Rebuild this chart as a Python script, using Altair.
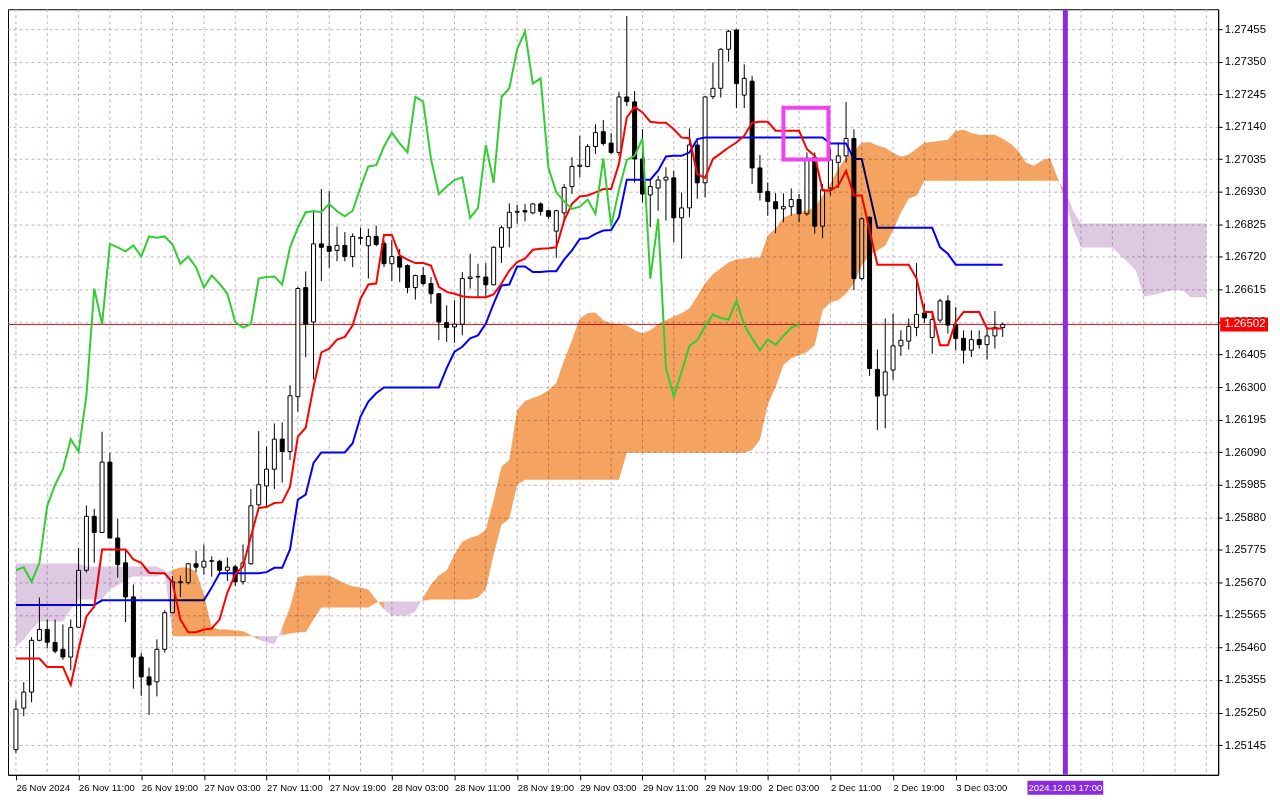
import altair as alt
import pandas as pd

# ---------------- data ----------------
x_label_bars = [0, 8, 16, 24, 32, 40, 48, 56, 64, 72, 80, 88, 96, 104, 112, 120]
x_labels = ["26 Nov 2024", "26 Nov 11:00", "26 Nov 19:00", "27 Nov 03:00", "27 Nov 11:00",
            "27 Nov 19:00", "28 Nov 03:00", "28 Nov 11:00", "28 Nov 19:00", "29 Nov 03:00",
            "29 Nov 11:00", "29 Nov 19:00", "2 Dec 03:00", "2 Dec 11:00", "2 Dec 19:00",
            "3 Dec 03:00"]
y_ticks = [1.25145, 1.25250, 1.25355, 1.25460, 1.25565, 1.25670, 1.25775, 1.25880,
           1.25985, 1.26090, 1.26195, 1.26300, 1.26405, 1.26510, 1.26615, 1.26720,
           1.26825, 1.26930, 1.27035, 1.27140, 1.27245, 1.27350, 1.27455]
grid_bars = [0, 4, 8, 12, 16, 20, 24, 28, 32, 36, 40, 44, 48, 52, 56, 60, 64, 68, 72, 76,
             80, 84, 88, 92, 96, 100, 104, 108, 112, 116, 120, 124, 128, 132, 136, 140,
             144, 148, 152]

opens = [
    1.25130, 1.25264, 1.25316, 1.25483, 1.25518, 1.25476, 1.25454, 1.25429, 1.25525, 1.25709,
    1.25883, 1.25831, 1.26058, 1.25813, 1.25733, 1.25623, 1.25429, 1.25365, 1.25349, 1.25454,
    1.25572, 1.25669, 1.25669, 1.25730, 1.25719, 1.25738, 1.25738, 1.25709, 1.25720, 1.25672,
    1.25730, 1.25920, 1.25981, 1.26035, 1.26132, 1.26092, 1.26269, 1.26621, 1.26510, 1.26762,
    1.26754, 1.26741, 1.26757, 1.26721, 1.26780, 1.26756, 1.26786, 1.26764, 1.26698, 1.26721,
    1.26692, 1.26621, 1.26660, 1.26634, 1.26601, 1.26508, 1.26494, 1.26503, 1.26650, 1.26655,
    1.26655, 1.26630, 1.26751, 1.26814, 1.26864, 1.26869, 1.26862, 1.26891, 1.26869, 1.26803,
    1.26862, 1.26947, 1.27012, 1.27012, 1.27076, 1.27124, 1.27087, 1.27057, 1.27236, 1.27220,
    1.27036, 1.26920, 1.26942, 1.26968, 1.26975, 1.26846, 1.26878, 1.27081, 1.26959, 1.27237,
    1.27264, 1.27390, 1.27452, 1.27242, 1.27287, 1.27007, 1.26931, 1.26898, 1.26875, 1.26882,
    1.26905, 1.26859, 1.27041, 1.26819, 1.26942, 1.27025, 1.27046, 1.27102, 1.26650, 1.26848,
    1.26357, 1.26274, 1.26355, 1.26433, 1.26448, 1.26492, 1.26539, 1.26460, 1.26516, 1.26578,
    1.26502, 1.26457, 1.26419, 1.26453, 1.26437, 1.26465, 1.26492]
highs = [
    1.25290, 1.25348, 1.25493, 1.25621, 1.25550, 1.25550, 1.25534, 1.25550, 1.25781, 1.25918,
    1.25907, 1.26156, 1.26087, 1.25875, 1.25773, 1.25663, 1.25443, 1.25395, 1.25486, 1.25580,
    1.25690, 1.25692, 1.25733, 1.25772, 1.25792, 1.25754, 1.25743, 1.25750, 1.25727, 1.25792,
    1.25971, 1.26158, 1.26108, 1.26183, 1.26186, 1.26306, 1.26623, 1.26673, 1.26872, 1.26939,
    1.26932, 1.26818, 1.26800, 1.26796, 1.26814, 1.26811, 1.26821, 1.26773, 1.26775, 1.26746,
    1.26696, 1.26663, 1.26687, 1.26655, 1.26603, 1.26564, 1.26580, 1.26671, 1.26730, 1.26698,
    1.26700, 1.26754, 1.26821, 1.26893, 1.26888, 1.26891, 1.26893, 1.26896, 1.26872, 1.26872,
    1.26955, 1.27041, 1.27111, 1.27084, 1.27148, 1.27162, 1.27119, 1.27253, 1.27497, 1.27255,
    1.27132, 1.26971, 1.26982, 1.27009, 1.26998, 1.26928, 1.27134, 1.27095, 1.27239, 1.27347,
    1.27393, 1.27452, 1.27454, 1.27341, 1.27304, 1.27049, 1.26960, 1.26926, 1.26925, 1.26941,
    1.26923, 1.27057, 1.27057, 1.26955, 1.27068, 1.27089, 1.27220, 1.27132, 1.26848, 1.26850,
    1.26421, 1.26521, 1.26537, 1.26483, 1.26521, 1.26700, 1.26569, 1.26542, 1.26585, 1.26596,
    1.26558, 1.26483, 1.26483, 1.26483, 1.26494, 1.26545, 1.26508]
lows = [
    1.25120, 1.25238, 1.25283, 1.25480, 1.25457, 1.25441, 1.25420, 1.25387, 1.25524, 1.25701,
    1.25733, 1.25829, 1.25813, 1.25685, 1.25542, 1.25327, 1.25304, 1.25242, 1.25302, 1.25443,
    1.25572, 1.25623, 1.25663, 1.25703, 1.25695, 1.25688, 1.25695, 1.25674, 1.25658, 1.25663,
    1.25727, 1.25915, 1.25915, 1.25971, 1.25992, 1.26065, 1.26221, 1.26396, 1.26325, 1.26642,
    1.26685, 1.26706, 1.26706, 1.26687, 1.26760, 1.26650, 1.26754, 1.26687, 1.26642, 1.26639,
    1.26603, 1.26582, 1.26628, 1.26569, 1.26451, 1.26446, 1.26443, 1.26467, 1.26618, 1.26590,
    1.26590, 1.26628, 1.26700, 1.26751, 1.26827, 1.26835, 1.26857, 1.26853, 1.26843, 1.26717,
    1.26837, 1.26923, 1.26977, 1.27009, 1.27052, 1.27079, 1.27052, 1.27046, 1.27207, 1.26960,
    1.26896, 1.26816, 1.26869, 1.26837, 1.26767, 1.26714, 1.26848, 1.26907, 1.26912, 1.27229,
    1.27234, 1.27350, 1.27200, 1.27200, 1.26955, 1.26902, 1.26853, 1.26796, 1.26832, 1.26853,
    1.26832, 1.26853, 1.26795, 1.26780, 1.26918, 1.26942, 1.27025, 1.26613, 1.26644, 1.26336,
    1.26162, 1.26167, 1.26323, 1.26401, 1.26421, 1.26464, 1.26507, 1.26408, 1.26507, 1.26473,
    1.26419, 1.26376, 1.26397, 1.26424, 1.26389, 1.26424, 1.26462]
closes = [
    1.25261, 1.25316, 1.25483, 1.25518, 1.25477, 1.25448, 1.25429, 1.25524, 1.25709, 1.25883,
    1.25831, 1.26058, 1.25813, 1.25727, 1.25623, 1.25429, 1.25365, 1.25339, 1.25454, 1.25572,
    1.25672, 1.25672, 1.25730, 1.25719, 1.25738, 1.25740, 1.25709, 1.25719, 1.25672, 1.25733,
    1.25917, 1.25985, 1.26035, 1.26132, 1.26092, 1.26272, 1.26618, 1.26503, 1.26762, 1.26751,
    1.26738, 1.26757, 1.26721, 1.26786, 1.26782, 1.26786, 1.26760, 1.26698, 1.26721, 1.26687,
    1.26621, 1.26660, 1.26634, 1.26601, 1.26510, 1.26492, 1.26503, 1.26650, 1.26655, 1.26657,
    1.26630, 1.26751, 1.26814, 1.26864, 1.26867, 1.26865, 1.26891, 1.26867, 1.26851, 1.26869,
    1.26944, 1.27012, 1.27016, 1.27076, 1.27121, 1.27086, 1.27057, 1.27236, 1.27221, 1.27036,
    1.26923, 1.26947, 1.26968, 1.26977, 1.26846, 1.26878, 1.27081, 1.26959, 1.27236, 1.27264,
    1.27390, 1.27448, 1.27279, 1.27296, 1.27007, 1.26928, 1.26899, 1.26875, 1.26882, 1.26905,
    1.26859, 1.27038, 1.26819, 1.26937, 1.27033, 1.27046, 1.27102, 1.26650, 1.26843, 1.26360,
    1.26271, 1.26349, 1.26433, 1.26451, 1.26496, 1.26534, 1.26523, 1.26518, 1.26578, 1.26500,
    1.26457, 1.26419, 1.26453, 1.26437, 1.26465, 1.26492, 1.26502]

tenkan = [
    1.25424, 1.25424, 1.25424, 1.25424, 1.25397, 1.25397, 1.25397, 1.25339, 1.25454, 1.25560,
    1.25592, 1.25776, 1.25776, 1.25776, 1.25776, 1.25744, 1.25733, 1.25701, 1.25699, 1.25699,
    1.25669, 1.25550, 1.25509, 1.25509, 1.25518, 1.25521, 1.25550, 1.25637, 1.25695, 1.25722,
    1.25818, 1.25910, 1.25913, 1.25926, 1.25928, 1.25979, 1.26140, 1.26169, 1.26301, 1.26412,
    1.26424, 1.26453, 1.26462, 1.26499, 1.26585, 1.26631, 1.26634, 1.26791, 1.26791, 1.26725,
    1.26711, 1.26700, 1.26700, 1.26692, 1.26623, 1.26607, 1.26601, 1.26593, 1.26590, 1.26590,
    1.26590, 1.26599, 1.26634, 1.26676, 1.26703, 1.26714, 1.26743, 1.26746, 1.26748, 1.26751,
    1.26837, 1.26891, 1.26915, 1.26918, 1.26928, 1.26939, 1.26939, 1.27020, 1.27170, 1.27204,
    1.27186, 1.27156, 1.27153, 1.27153, 1.27132, 1.27105, 1.27103, 1.26987, 1.26975, 1.27036,
    1.27054, 1.27073, 1.27089, 1.27111, 1.27153, 1.27156, 1.27156, 1.27127, 1.27127, 1.27127,
    1.27127, 1.27068, 1.27046, 1.26934, 1.26934, 1.26950, 1.26998, 1.26918, 1.26918, 1.26805,
    1.26695, 1.26695, 1.26695, 1.26695, 1.26695, 1.26650, 1.26542, 1.26542, 1.26435, 1.26435,
    1.26510, 1.26542, 1.26542, 1.26542, 1.26489, 1.26489, 1.26489]
kijun = [
    1.25597, 1.25597, 1.25597, 1.25597, 1.25597, 1.25597, 1.25597, 1.25597, 1.25597, 1.25597,
    1.25597, 1.25612, 1.25612, 1.25612, 1.25612, 1.25612, 1.25612, 1.25612, 1.25612, 1.25612,
    1.25612, 1.25612, 1.25612, 1.25612, 1.25612, 1.25653, 1.25699, 1.25699, 1.25699, 1.25699,
    1.25699, 1.25699, 1.25703, 1.25717, 1.25717, 1.25776, 1.25937, 1.25953, 1.26055, 1.26089,
    1.26089, 1.26089, 1.26089, 1.26119, 1.26205, 1.26253, 1.26280, 1.26299, 1.26299, 1.26299,
    1.26299, 1.26299, 1.26299, 1.26299, 1.26299, 1.26361, 1.26414, 1.26430, 1.26457, 1.26467,
    1.26505, 1.26569, 1.26628, 1.26631, 1.26689, 1.26689, 1.26671, 1.26671, 1.26674, 1.26674,
    1.26711, 1.26741, 1.26778, 1.26780, 1.26794, 1.26805, 1.26807, 1.26848, 1.26969, 1.26969,
    1.26969, 1.26969, 1.26998, 1.27044, 1.27046, 1.27046, 1.27057, 1.27100, 1.27105, 1.27105,
    1.27105, 1.27105, 1.27105, 1.27105, 1.27105, 1.27105, 1.27105, 1.27105, 1.27105, 1.27105,
    1.27105, 1.27105, 1.27105, 1.27105, 1.27086, 1.27086, 1.27086, 1.27036, 1.27036, 1.26925,
    1.26814, 1.26814, 1.26814, 1.26814, 1.26814, 1.26814, 1.26814, 1.26814, 1.26751, 1.26730,
    1.26695, 1.26695, 1.26695, 1.26695, 1.26695, 1.26695, 1.26695]

span_a = [
    1.25464, 1.25486, 1.25518, 1.25544, 1.25544, 1.25544, 1.25544, 1.25583, 1.25615, 1.25615,
    1.25615, 1.25615, 1.25647, 1.25660, 1.25679, 1.25689, 1.25689, 1.25689, 1.25689, 1.25698,
    1.25711, 1.25718, 1.25718, 1.25705, 1.25631, 1.25525, 1.25518, 1.25518, 1.25515, 1.25512,
    1.25499, 1.25486, 1.25476, 1.25470, 1.25525, 1.25589, 1.25686, 1.25692, 1.25692, 1.25692,
    1.25692, 1.25679, 1.25666, 1.25657, 1.25653, 1.25647, 1.25615, 1.25583, 1.25563, 1.25563,
    1.25563, 1.25576, 1.25621, 1.25663, 1.25692, 1.25708, 1.25760, 1.25801, 1.25814, 1.25821,
    1.25840, 1.25937, 1.26043, 1.26065, 1.26226, 1.26255, 1.26265, 1.26274, 1.26290, 1.26313,
    1.26387, 1.26451, 1.26522, 1.26538, 1.26541, 1.26516, 1.26506, 1.26503, 1.26499, 1.26483,
    1.26474, 1.26483, 1.26503, 1.26516, 1.26528, 1.26538, 1.26554, 1.26593, 1.26635, 1.26664,
    1.26683, 1.26702, 1.26712, 1.26715, 1.26718, 1.26718, 1.26789, 1.26812, 1.26847, 1.26857,
    1.26863, 1.26869, 1.26879, 1.26918, 1.26956, 1.27005, 1.27040, 1.27062, 1.27088, 1.27091,
    1.27079, 1.27072, 1.27056, 1.27043, 1.27050, 1.27069, 1.27088, 1.27091, 1.27095, 1.27098,
    1.27127, 1.27130, 1.27120, 1.27114, 1.27114, 1.27114, 1.27101, 1.27085, 1.27062, 1.27024,
    1.27014, 1.27030, 1.27040, 1.26976, 1.26902, 1.26812, 1.26750, 1.26750, 1.26750, 1.26750,
    1.26750, 1.26725, 1.26702, 1.26676, 1.26593, 1.26596, 1.26602, 1.26609, 1.26612, 1.26612,
    1.26590, 1.26590, 1.26590]
span_b = [
    1.25731, 1.25731, 1.25731, 1.25731, 1.25731, 1.25731, 1.25731, 1.25731, 1.25731, 1.25721,
    1.25721, 1.25721, 1.25721, 1.25721, 1.25721, 1.25721, 1.25721, 1.25721, 1.25721, 1.25708,
    1.25496, 1.25496, 1.25496, 1.25496, 1.25496, 1.25496, 1.25496, 1.25496, 1.25496, 1.25496,
    1.25496, 1.25496, 1.25496, 1.25496, 1.25499, 1.25505, 1.25509, 1.25509, 1.25550, 1.25589,
    1.25589, 1.25589, 1.25589, 1.25589, 1.25589, 1.25589, 1.25605, 1.25608, 1.25608, 1.25608,
    1.25608, 1.25608, 1.25611, 1.25615, 1.25615, 1.25615, 1.25615, 1.25615, 1.25615, 1.25621,
    1.25647, 1.25760, 1.25856, 1.25875, 1.25985, 1.26001, 1.26001, 1.26001, 1.26001, 1.26001,
    1.26001, 1.26001, 1.26001, 1.26001, 1.26001, 1.26001, 1.26001, 1.26001, 1.26088, 1.26088,
    1.26088, 1.26088, 1.26088, 1.26088, 1.26088, 1.26088, 1.26088, 1.26088, 1.26088, 1.26088,
    1.26088, 1.26088, 1.26088, 1.26088, 1.26097, 1.26130, 1.26242, 1.26300, 1.26371, 1.26393,
    1.26403, 1.26413, 1.26435, 1.26548, 1.26574, 1.26580, 1.26602, 1.26635, 1.26692, 1.26725,
    1.26741, 1.26757, 1.26805, 1.26863, 1.26908, 1.26918, 1.26966, 1.26966, 1.26966, 1.26966,
    1.26966, 1.26966, 1.26966, 1.26966, 1.26966, 1.26966, 1.26966, 1.26966, 1.26966, 1.26966,
    1.26966, 1.26966, 1.26966, 1.26966, 1.26934, 1.26869, 1.26828, 1.26828, 1.26828, 1.26828,
    1.26828, 1.26828, 1.26828, 1.26828, 1.26828, 1.26828, 1.26828, 1.26828, 1.26828, 1.26828,
    1.26828, 1.26828, 1.26828]

chikou_shift = 26
current_price = 1.26502
current_label = "1.26502"
marker_bar = 134
marker_label = "2024.12.03 17:00"
box_bars = [98.0, 103.75]
box_prices = [1.27034, 1.27201]

# ---------------- layout / style ----------------
W, H = 1214, 768
FONT = "Liberation Sans"
GRID = "#c4b0c4"
xs = alt.Scale(domain=[-0.375, 152.875], nice=False, zero=False)
ys = alt.Scale(domain=[1.25049, 1.27519], nice=False, zero=False)

label_js = "[" + ",".join('"%s"' % s for s in x_labels) + "]"
x_axis = alt.Axis(values=x_label_bars, labelExpr=label_js + "[round(datum.value/8)]",
                  orient="bottom", grid=False, title=None, tickSize=5, tickColor="black",
                  domainColor="black", labelAlign="left", labelPadding=3, labelFontSize=9.5,
                  labelFont=FONT, labelColor="black", labelOverlap=False, labelFlush=False)
y_axis = alt.Axis(values=y_ticks, format=".5f", orient="right", grid=True, gridColor=GRID,
                  gridDash=[3, 3], gridWidth=1, title=None, tickSize=4, tickColor="black",
                  domainColor="black", labelPadding=2, labelFontSize=11.5, labelFont=FONT,
                  labelColor="black", labelOverlap=False, labelFlush=False)


def X(f):
    return alt.X(f, type="quantitative", scale=xs, axis=x_axis)


def Y(f):
    return alt.Y(f, type="quantitative", scale=ys, axis=y_axis, stack=False)


n = len(closes)
candles = pd.DataFrame({"bar": list(range(n)), "o": opens, "h": highs, "l": lows, "c": closes})
lines_df = pd.DataFrame({"bar": list(range(n)), "tenkan": tenkan, "kijun": kijun})
chikou_df = pd.DataFrame({"bar": list(range(n - chikou_shift)), "v": closes[chikou_shift:]})

rows = []
seg = 0
kind = ["up" if a >= b else "dn" for a, b in zip(span_a, span_b)]
for i in range(len(span_a)):
    if i > 0 and kind[i] != kind[i - 1]:
        rows.append({"bar": i, "a": span_a[i], "b": span_b[i], "seg": seg, "kind": kind[i - 1]})
        seg += 1
    rows.append({"bar": i, "a": span_a[i], "b": span_b[i], "seg": seg, "kind": kind[i]})
cloud_df = pd.DataFrame(rows)

base_grid = alt.Chart(pd.DataFrame({"bar": grid_bars})).mark_rule(
    color=GRID, strokeDash=[3, 3], strokeWidth=1).encode(x=X("bar"))

price_line = alt.Chart(pd.DataFrame({"p": [current_price]})).mark_rule(
    color="#c02020", strokeWidth=1).encode(y=Y("p"))

wicks = alt.Chart(candles).mark_rule(color="black", strokeWidth=1).encode(
    x=X("bar"), y=Y("l"), y2="h")
bodies = alt.Chart(candles).mark_bar(size=4, stroke="black", strokeWidth=1).encode(
    x=X("bar"), y=Y("o"), y2="c",
    fill=alt.condition("datum.c >= datum.o", alt.value("white"), alt.value("black")))

kijun_line = alt.Chart(lines_df).mark_line(color="#0000ff", strokeWidth=2).encode(
    x=X("bar"), y=Y("kijun"))
tenkan_line = alt.Chart(lines_df).mark_line(color="#ff0000", strokeWidth=2).encode(
    x=X("bar"), y=Y("tenkan"))
chikou_line = alt.Chart(chikou_df).mark_line(color="#32cd32", strokeWidth=2).encode(
    x=X("bar"), y=Y("v"))

cloud = alt.Chart(cloud_df).mark_area(blend="multiply", interpolate="linear").encode(
    x=X("bar"), y=Y("a"), y2="b",
    color=alt.Color("kind:N", scale=alt.Scale(domain=["up", "dn"], range=["#f4a460", "#dec8e2"]),
                    legend=None),
    detail="seg:N")

box = alt.Chart(pd.DataFrame({"x1": [box_bars[0]], "x2": [box_bars[1]],
                              "y1": [box_prices[0]], "y2": [box_prices[1]]})).mark_rect(
    fillOpacity=0, stroke="#ee44ee", strokeWidth=4).encode(
    x=X("x1"), x2="x2", y=Y("y1"), y2="y2")

vline = alt.Chart(pd.DataFrame({"bar": [marker_bar]})).mark_rule(
    color="#8a2be2", strokeWidth=5).encode(x=X("bar"))

price_tag = alt.Chart(pd.DataFrame({"p": [current_price]})).mark_tick(
    orient="horizontal", size=48, thickness=14, color="#ff0000", opacity=1).encode(
    x=alt.value(W + 26), y=Y("p"))
price_txt = alt.Chart(pd.DataFrame({"p": [current_price], "t": [current_label]})).mark_text(
    align="left", baseline="middle", color="white", font=FONT, fontSize=11.5).encode(
    x=alt.value(W + 6), y=Y("p"), text="t:N")

time_tag = alt.Chart(pd.DataFrame({"bar": [marker_bar]})).mark_tick(
    orient="horizontal", size=76, thickness=14, color="#8a2be2", opacity=1).encode(
    x=X("bar"), y=alt.value(H + 13))
time_txt = alt.Chart(pd.DataFrame({"bar": [marker_bar], "t": [marker_label]})).mark_text(
    align="center", baseline="middle", color="white", font=FONT, fontSize=9.5).encode(
    x=X("bar"), y=alt.value(H + 13), text="t:N")

chart = alt.layer(
    base_grid, price_line, wicks, bodies, kijun_line, tenkan_line,
    cloud, chikou_line, box, vline, price_tag, price_txt, time_tag, time_txt
).properties(
    width=W, height=H, background="white",
    autosize=alt.AutoSizeParams(type="none"),
    padding={"left": 0, "top": 0, "right": 54, "bottom": 22},
).configure_view(stroke="black", strokeWidth=1)

chart.save("out.html", embed_options={"renderer": "svg", "actions": False})
